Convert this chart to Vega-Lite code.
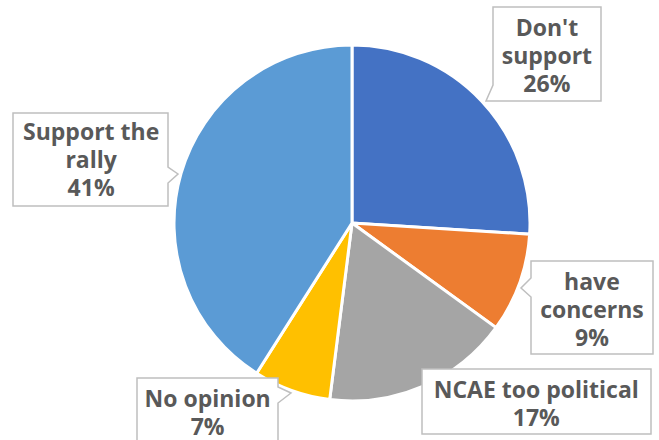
{
  "$schema": "https://vega.github.io/schema/vega-lite/v6.json",
  "width": 614,
  "height": 434,
  "autosize": "none",
  "padding": {"left": 45, "top": 6, "right": 0, "bottom": 0},
  "background": "white",
  "config": {"view": {"stroke": null}},
  "data": {
    "values": [
      {"idx": 1, "category": "Don't support", "value": 26, "label": "Don't\nsupport\n26%"},
      {"idx": 2, "category": "have concerns", "value": 9, "label": "have\nconcerns\n9%"},
      {"idx": 3, "category": "NCAE too political", "value": 17, "label": "NCAE too political\n17%"},
      {"idx": 4, "category": "No opinion", "value": 7, "label": "No opinion\n7%"},
      {"idx": 5, "category": "Support the rally", "value": 41, "label": "Support the\nrally\n41%"}
    ]
  },
  "layer": [
    {
      "mark": {"type": "arc", "outerRadius": 178, "stroke": "white", "strokeWidth": 3},
      "encoding": {
        "theta": {"field": "value", "type": "quantitative", "stack": true},
        "order": {"field": "idx", "type": "quantitative"},
        "color": {
          "field": "category", "type": "nominal", "legend": null,
          "scale": {
            "domain": ["Don't support", "have concerns", "NCAE too political", "No opinion", "Support the rally"],
            "range": ["#4472C4", "#ED7D31", "#A5A5A5", "#FFC000", "#5B9BD5"]
          }
        }
      }
    },
    {
      "mark": {"type": "point", "filled": true, "fill": "white", "stroke": "#BFBFBF", "strokeWidth": 1.5, "opacity": 1, "size": 4},
      "encoding": {
        "shape": {
          "field": "category", "type": "nominal", "legend": null,
          "scale": {
            "domain": ["Don't support", "have concerns", "NCAE too political", "No opinion", "Support the rally"],
            "range": [
              "M141,-216H249V-122H134L141,-138Z",
              "M179,38H301V131H179V74L169,65L179,55Z",
              "M70,146H299V211H70Z",
              "M-215,155H-74V164L-61,170L-74,180V225H-215Z",
              "M-339,-110H-184V-56L-174,-49L-184,-40V-17H-339Z"
            ]
          }
        }
      }
    },
    {
      "mark": {"type": "text", "radius": 255, "dx": 9, "dy": -19, "font": "Open Sans", "fontSize": 23, "fontWeight": "bold", "fill": "#595959", "lineBreak": "\n", "lineHeight": 28, "align": "center", "baseline": "middle"},
      "encoding": {
        "theta": {"field": "value", "type": "quantitative", "stack": true},
        "order": {"field": "idx", "type": "quantitative"},
        "detail": {"field": "category", "type": "nominal"},
        "text": {"condition": {"test": "datum.idx === 1", "field": "label"}, "value": ""}
      }
    },
    {
      "mark": {"type": "text", "radius": 255, "dx": 0, "dy": -26, "font": "Open Sans", "fontSize": 23, "fontWeight": "bold", "fill": "#595959", "lineBreak": "\n", "lineHeight": 28, "align": "center", "baseline": "middle"},
      "encoding": {
        "theta": {"field": "value", "type": "quantitative", "stack": true},
        "order": {"field": "idx", "type": "quantitative"},
        "detail": {"field": "category", "type": "nominal"},
        "text": {"condition": {"test": "datum.idx === 2", "field": "label"}, "value": ""}
      }
    },
    {
      "mark": {"type": "text", "radius": 255, "dx": 83, "dy": -66, "font": "Open Sans", "fontSize": 23, "fontWeight": "bold", "fill": "#595959", "lineBreak": "\n", "lineHeight": 28, "align": "center", "baseline": "middle"},
      "encoding": {
        "theta": {"field": "value", "type": "quantitative", "stack": true},
        "order": {"field": "idx", "type": "quantitative"},
        "detail": {"field": "category", "type": "nominal"},
        "text": {"condition": {"test": "datum.idx === 3", "field": "label"}, "value": ""}
      }
    },
    {
      "mark": {"type": "text", "radius": 255, "dx": -58, "dy": -63, "font": "Open Sans", "fontSize": 23, "fontWeight": "bold", "fill": "#595959", "lineBreak": "\n", "lineHeight": 28, "align": "center", "baseline": "middle"},
      "encoding": {
        "theta": {"field": "value", "type": "quantitative", "stack": true},
        "order": {"field": "idx", "type": "quantitative"},
        "detail": {"field": "category", "type": "nominal"},
        "text": {"condition": {"test": "datum.idx === 4", "field": "label"}, "value": ""}
      }
    },
    {
      "mark": {"type": "text", "radius": 255, "dx": -16, "dy": -19, "font": "Open Sans", "fontSize": 23, "fontWeight": "bold", "fill": "#595959", "lineBreak": "\n", "lineHeight": 28, "align": "center", "baseline": "middle"},
      "encoding": {
        "theta": {"field": "value", "type": "quantitative", "stack": true},
        "order": {"field": "idx", "type": "quantitative"},
        "detail": {"field": "category", "type": "nominal"},
        "text": {"condition": {"test": "datum.idx === 5", "field": "label"}, "value": ""}
      }
    }
  ]
}
